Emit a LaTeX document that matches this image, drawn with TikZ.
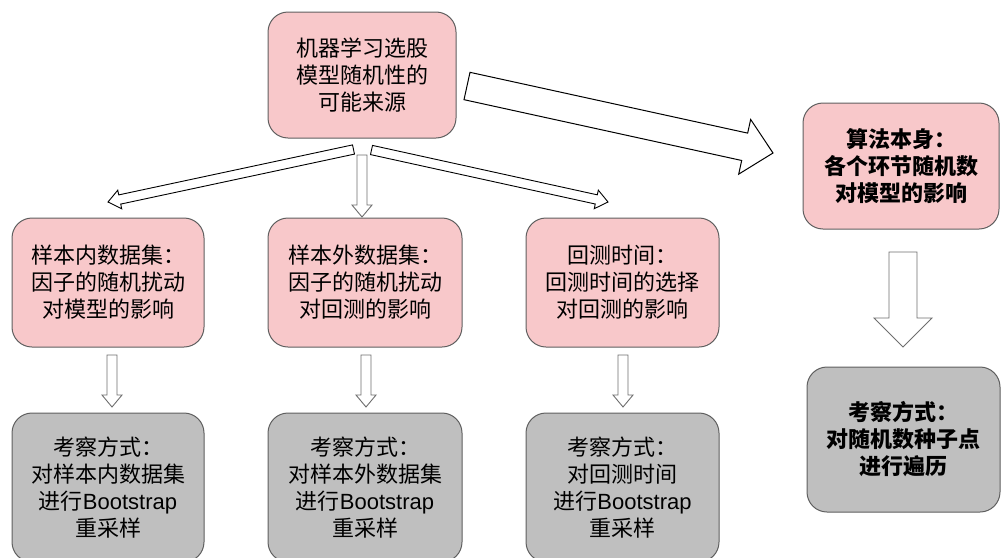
\documentclass[tikz,border=0pt]{standalone}
\usepackage{fontspec}
\setmainfont{Liberation Sans}
\newfontfamily\cjk{Noto Sans CJK SC}
\usetikzlibrary{calc}
\definecolor{pinkfill}{RGB}{248,200,202}
\definecolor{grayfill}{RGB}{191,191,191}
\definecolor{boxline}{RGB}{95,95,95}
\definecolor{arrline}{RGB}{110,110,110}
% block arrow: start, end, shaft half width, head half width, head length, style
\newcommand\blockarrow[6]{%
  \coordinate (ba-c) at ($(#2)!#5!(#1)$);
  \draw[#6] ($(#1)!#3!90:(#2)$) -- ($(ba-c)!#3!90:(#2)$) -- ($(ba-c)!#4!90:(#2)$)
    -- (#2) -- ($(ba-c)!#4!-90:(#2)$) -- ($(ba-c)!#3!-90:(#2)$)
    -- ($(#1)!#3!-90:(#2)$) -- cycle;}
\begin{document}
\begin{tikzpicture}[x=1pt,y=-1pt,
  box/.style={draw=boxline, line width=1pt, rounded corners=20pt, align=center,
    font=\fontsize{22}{27}\selectfont\cjk, inner sep=0pt},
  pinkbox/.style={box, fill=pinkfill},
  graybox/.style={box, fill=grayfill},
  bigarrow/.style={draw=black, fill=white, line width=1pt, line join=miter},
  thinarrow/.style={draw=black, fill=white, line width=0.9pt, line join=miter},
  smallarrow/.style={draw=arrline, fill=white, line width=0.9pt, line join=miter}]
\useasboundingbox (0,0) rectangle (1003,557);
\clip (0,0) rectangle (1003,557);

% boxes
\node[pinkbox, minimum width=188pt, minimum height=126pt] (src) at (362,75)
  {机器学习选股\\模型随机性的\\可能来源};
\node[pinkbox, minimum width=196pt, minimum height=126pt] (alg) at (901,166)
  {\bfseries 算法本身：\\\bfseries 各个环节随机数\\\bfseries 对模型的影响};
\node[pinkbox, minimum width=192pt, minimum height=129pt] (ins) at (108,282.5)
  {样本内数据集：\\因子的随机扰动\\对模型的影响};
\node[pinkbox, minimum width=194pt, minimum height=129pt] (oos) at (365,282.5)
  {样本外数据集：\\因子的随机扰动\\对回测的影响};
\node[pinkbox, minimum width=193pt, minimum height=129pt] (bt) at (622.5,282.5)
  {回测时间：\\回测时间的选择\\对回测的影响};
\node[graybox, minimum width=192pt, minimum height=149pt] (gins) at (108,487.5)
  {考察方式：\\对样本内数据集\\进行{\rmfamily Bootstrap}\\重采样};
\node[graybox, minimum width=194pt, minimum height=149pt] (goos) at (365,487.5)
  {考察方式：\\对样本外数据集\\进行{\rmfamily Bootstrap}\\重采样};
\node[graybox, minimum width=193pt, minimum height=149pt] (gbt) at (622.5,487.5)
  {考察方式：\\对回测时间\\进行{\rmfamily Bootstrap}\\重采样};
\node[graybox, minimum width=193pt, minimum height=145pt] (galg) at (903.5,439.5)
  {\bfseries 考察方式：\\\bfseries 对随机数种子点\\\bfseries 进行遍历};

% arrow end points
\coordinate (a1s) at (467,86);    \coordinate (a1e) at (773,153);
\coordinate (a2s) at (353.5,149.5); \coordinate (a2e) at (108,202);
\coordinate (a3s) at (362,155);   \coordinate (a3e) at (362,217);
\coordinate (a4s) at (371.5,150); \coordinate (a4e) at (608,202);
\coordinate (a5s) at (112,355);   \coordinate (a5e) at (112,407);
\coordinate (a6s) at (366,355);   \coordinate (a6e) at (366,407);
\coordinate (a7s) at (623,355);   \coordinate (a7e) at (623,407);
\coordinate (a8s) at (903,252);   \coordinate (a8e) at (903,347);

% arrows
\blockarrow{a1s}{a1e}{14pt}{28pt}{29pt}{bigarrow}
\blockarrow{a2s}{a2e}{4.7pt}{9.5pt}{12pt}{thinarrow}
\blockarrow{a3s}{a3e}{5pt}{10pt}{12pt}{smallarrow}
\blockarrow{a4s}{a4e}{4.7pt}{9.5pt}{12pt}{thinarrow}
\blockarrow{a5s}{a5e}{5pt}{10pt}{12pt}{smallarrow}
\blockarrow{a6s}{a6e}{5pt}{10pt}{12pt}{smallarrow}
\blockarrow{a7s}{a7e}{5pt}{10pt}{12pt}{smallarrow}
\blockarrow{a8s}{a8e}{14pt}{29pt}{29pt}{smallarrow}
\end{tikzpicture}
\end{document}
